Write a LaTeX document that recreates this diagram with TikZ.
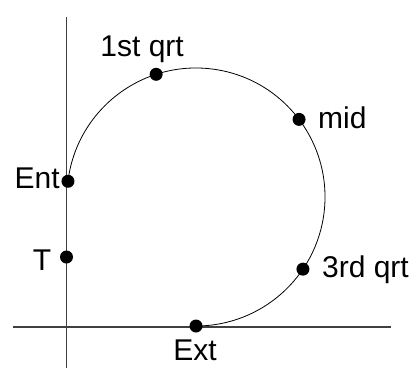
\documentclass[tikz,border=0pt]{standalone}
\usepackage{fontspec}
\setmainfont{Liberation Sans}

\begin{document}
\begin{tikzpicture}[x=1pt, y=1pt]
% --- Global Styles ---
\tikzstyle{axis} = [line width=1.2pt, draw=black!75]
\tikzstyle{track} = [line width=0.8pt]
\tikzstyle{dot} = [circle, fill=black, inner sep=0pt, minimum size=13pt]
\tikzstyle{lbl} = [inner sep=0pt, font=\fontsize{30}{35}\selectfont]

\useasboundingbox (0,0) rectangle (414,378);

% --- Circle centre and radius ---
\def\cx{196}   % centre x
\def\cy{181}   % centre y
\def\rr{129}   % radius
\coordinate (c) at (\cx,\cy);

% ==========================================
% Axes
% ==========================================
\coordinate (ybot) at (66.5,10);
\coordinate (ytop) at (66.5,361);
\coordinate (xleft) at (13,51);
\coordinate (xright) at (391,51);
\draw[axis] (ybot) -- (ytop);
\draw[axis] (xleft) -- (xright);

% ==========================================
% Track: from Ent round to Ext
% ==========================================
\draw[track] (c) ++(173:\rr) arc[start angle=173, end angle=-90, radius=\rr];

% Points on the track
\node[dot] (ent) at ([shift={(173:\rr)}]c) {};
\node[dot] (qone) at ([shift={(108:\rr)}]c) {};
\node[dot] (mid) at ([shift={(37:\rr)}]c) {};
\node[dot] (qthree) at ([shift={(-34:\rr)}]c) {};
\node[dot] (ext) at ([shift={(-90:\rr)}]c) {};
\node[dot] (tee) at (66.5,121) {};

% Labels
\node[lbl, anchor=base east] (entlbl) at ([shift={(-8,-7)}]ent) {Ent};
\node[lbl, anchor=base east] (teelbl) at ([shift={(-15,-13)}]tee) {T};
\node[lbl, anchor=base] (qonelbl) at ([shift={(-14,18)}]qone) {1st qrt};
\node[lbl, anchor=base west] (midlbl) at ([shift={(19,-9)}]mid) {mid};
\node[lbl, anchor=base west] (qthreelbl) at ([shift={(19,-8)}]qthree) {3rd qrt};
\node[lbl, anchor=base] (extlbl) at ([shift={(-1,-34)}]ext) {Ext};

\end{tikzpicture}
\end{document}
